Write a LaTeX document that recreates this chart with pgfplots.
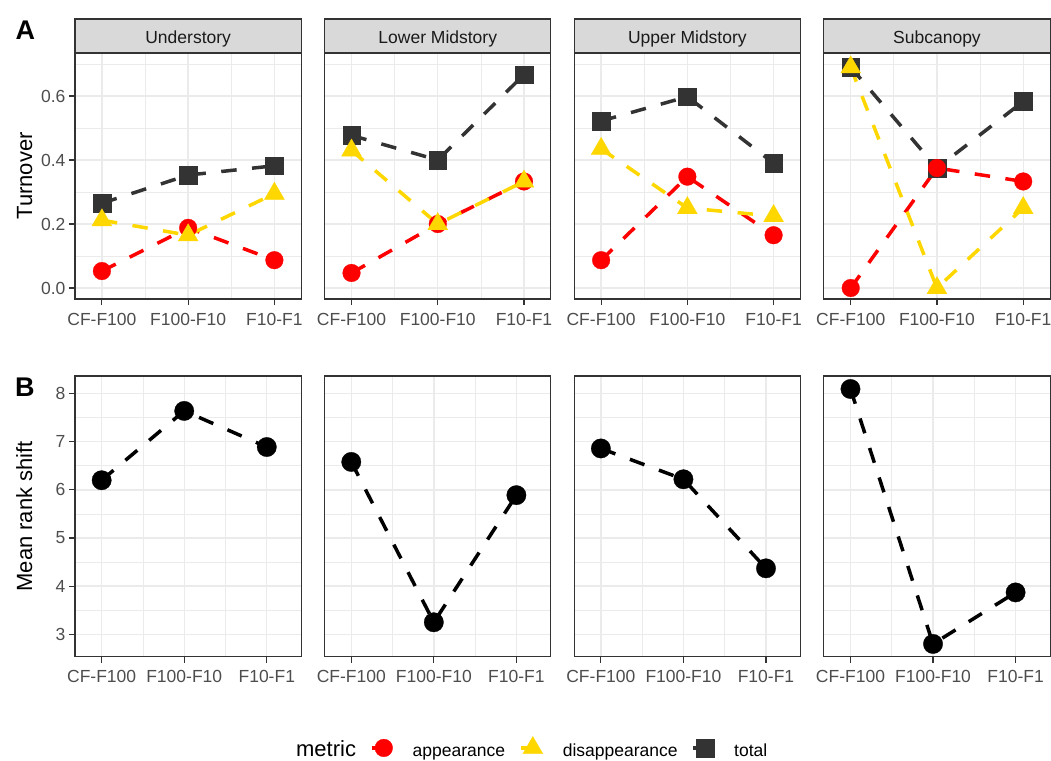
\documentclass[border=0pt]{standalone}
\usepackage{fontspec}
\setmainfont{Liberation Sans}
\usepackage{pgfplots}
\pgfplotsset{compat=1.18}
\definecolor{g10}{HTML}{1A1A1A}
\definecolor{g20}{HTML}{333333}
\definecolor{g30}{HTML}{4D4D4D}
\definecolor{g85}{HTML}{D9D9D9}
\definecolor{g92}{HTML}{EBEBEB}
\definecolor{gold}{HTML}{FFD700}
\newcommand\ticksize{\fontsize{17.5}{20}\selectfont}
\newcommand\titlesize{\fontsize{22}{26}\selectfont}
\pgfplotsset{
  panel/.style={
    scale only axis, width=226.3pt,
    axis line style={g20, line width=1.1pt},
    tick style={g20, line width=1.1pt},
    tick align=outside, major tick length=6pt, minor tick length=0pt,
    xtick pos=bottom, ytick pos=left,
    grid=both,
    major grid style={g92, line width=1.4pt},
    minor grid style={g92, line width=0.7pt},
    xtick={1,2,3}, xticklabels={CF-F100,F100-F10,F10-F1}, minor xtick={1.5,2.5},
    tick label style={font=\ticksize, text=g30},
    xticklabel style={yshift=-4.5pt},
    /pgf/number format/assume math mode=true,
  },
  top/.style={panel, height=246pt, xmin=0.688, xmax=3.312, ymin=-0.0343, ymax=0.7345,
    ytick={0,0.2,0.4,0.6}, minor ytick={0.1,0.3,0.5,0.7}, yticklabels={0.0,0.2,0.4,0.6}},
  bot/.style={panel, height=280.7pt, xmin=0.677, xmax=3.418, ymin=2.535, ymax=8.365,
    ytick={3,4,5,6,7,8}, minor ytick={3.5,4.5,5.5,6.5,7.5}, yticklabels={3,4,5,6,7,8}},
  inner/.style={yticklabels={}, ytick style={draw=none}},
  every axis title/.style={at={(0.5,1)}, anchor=south, fill=g85, draw=g20, line width=1.1pt,
    minimum width=226.3pt, minimum height=34pt, inner sep=0pt, outer sep=0pt,
    text height=14.6pt, text depth=0pt, text=g10, font=\ticksize},
  ln/.style={no markers, line width=3.5pt, dash pattern=on 15.5pt off 15.5pt},
  mapp/.style={only marks, mark=*, mark size=8.85pt, red, mark options={solid, line width=0.3pt}},
  mdis/.style={only marks, mark=triangle*, mark size=11.5pt, gold, mark options={solid, line width=0.3pt}},
  mtot/.style={only marks, mark=square*, mark size=8.85pt, g20, mark options={solid, line width=0.3pt}},
  mbot/.style={only marks, mark=*, mark size=9.7pt, black, mark options={solid, line width=0.3pt}},
  legkey/.style={legend image code/.code={
      \draw[##1, mark=none, solid] (-12pt,8.3pt) -- (0pt,8.3pt);
      \draw[##1] plot coordinates {(0pt,8.3pt)};
  }},
}
\begin{document}
\begin{tikzpicture}
\useasboundingbox (0pt,0pt) rectangle (1051pt,760pt);
\node[anchor=base west, font=\fontsize{27}{30}\selectfont\bfseries] at (12pt,720pt) {A};
\node[anchor=base west, font=\fontsize{27}{30}\selectfont\bfseries] at (11.5pt,363.3pt) {B};

% ---------- Row A ----------
\begin{axis}[top, at={(75pt,461pt)}, anchor=south west, title={Understory},
  ylabel={Turnover}, ylabel style={font=\titlesize, at={(axis description cs:-0.19,0.5)}, anchor=base}]
\addplot[ln, red] coordinates {(1,0.053) (2,0.188) (3,0.087)};
\addplot[ln, gold] coordinates {(1,0.212) (2,0.165) (3,0.295)};
\addplot[ln, g20] coordinates {(1,0.265) (2,0.353) (3,0.382)};
\addplot[mtot] coordinates {(1,0.265) (2,0.353) (3,0.382)};
\addplot[mapp] coordinates {(1,0.053) (2,0.188) (3,0.087)};
\addplot[mdis] coordinates {(1,0.212) (2,0.165) (3,0.295)};
\end{axis}

\begin{axis}[top, inner, at={(324.6pt,461pt)}, anchor=south west, title={Lower Midstory}]
\addplot[ln, red] coordinates {(1,0.047) (2,0.200) (3,0.333)};
\addplot[ln, gold] coordinates {(1,0.430) (2,0.200) (3,0.333)};
\addplot[ln, g20] coordinates {(1,0.477) (2,0.400) (3,0.667)};
\addplot[mtot] coordinates {(1,0.477) (2,0.400) (3,0.667)};
\addplot[mapp] coordinates {(1,0.047) (2,0.200) (3,0.333)};
\addplot[mdis] coordinates {(1,0.430) (2,0.200) (3,0.333)};
\end{axis}

\begin{axis}[top, inner, at={(574.2pt,461pt)}, anchor=south west, title={Upper Midstory}]
\addplot[ln, red] coordinates {(1,0.087) (2,0.348) (3,0.165)};
\addplot[ln, gold] coordinates {(1,0.435) (2,0.250) (3,0.225)};
\addplot[ln, g20] coordinates {(1,0.522) (2,0.598) (3,0.390)};
\addplot[mtot] coordinates {(1,0.522) (2,0.598) (3,0.390)};
\addplot[mapp] coordinates {(1,0.087) (2,0.348) (3,0.165)};
\addplot[mdis] coordinates {(1,0.435) (2,0.250) (3,0.225)};
\end{axis}

\begin{axis}[top, inner, at={(823.8pt,461pt)}, anchor=south west, title={Subcanopy}]
\addplot[ln, red] coordinates {(1,0.000) (2,0.375) (3,0.333)};
\addplot[ln, gold] coordinates {(1,0.690) (2,0.000) (3,0.250)};
\addplot[ln, g20] coordinates {(1,0.690) (2,0.375) (3,0.583)};
\addplot[mtot] coordinates {(1,0.690) (2,0.375) (3,0.583)};
\addplot[mapp] coordinates {(1,0.000) (2,0.375) (3,0.333)};
\addplot[mdis] coordinates {(1,0.690) (2,0.000) (3,0.250)};
\end{axis}

% ---------- Row B ----------
\begin{axis}[bot, at={(75pt,103.3pt)}, anchor=south west,
  ylabel={Mean rank shift}, ylabel style={font=\titlesize, at={(axis description cs:-0.19,0.5)}, anchor=base},
  legend columns=-1,
  legend style={draw=none, fill=none, inner sep=0pt, outer sep=0pt,
    at={(1.974,-0.360)}, anchor=south, font=\ticksize, text=black,
    cells={anchor=base west}, nodes={inner sep=0pt},
    /tikz/every odd column/.append style={column sep=20pt},
    /tikz/every even column/.append style={column sep=14pt}}]
\addplot[ln, black, forget plot] coordinates {(1,6.20) (2,7.64) (3,6.89)};
\addplot[mbot, forget plot] coordinates {(1,6.20) (2,7.64) (3,6.89)};
\addlegendimage{empty legend}\addlegendentry{\titlesize metric}
\addlegendimage{legkey, red, line width=3.5pt, mark=*, mark size=8.85pt, mark options={solid, line width=0.3pt}}\addlegendentry{appearance}
\addlegendimage{legkey, gold, line width=3.5pt, mark=triangle*, mark size=11.5pt, mark options={solid, line width=0.3pt}}\addlegendentry{disappearance}
\addlegendimage{legkey, g20, line width=3.5pt, mark=square*, mark size=8.85pt, mark options={solid, line width=0.3pt}}\addlegendentry{total}
\end{axis}

\begin{axis}[bot, inner, at={(324.6pt,103.3pt)}, anchor=south west]
\addplot[ln, black] coordinates {(1,6.58) (2,3.25) (3,5.89)};
\addplot[mbot] coordinates {(1,6.58) (2,3.25) (3,5.89)};
\end{axis}

\begin{axis}[bot, inner, at={(574.2pt,103.3pt)}, anchor=south west]
\addplot[ln, black] coordinates {(1,6.86) (2,6.22) (3,4.37)};
\addplot[mbot] coordinates {(1,6.86) (2,6.22) (3,4.37)};
\end{axis}

\begin{axis}[bot, inner, at={(823.8pt,103.3pt)}, anchor=south west]
\addplot[ln, black] coordinates {(1,8.095) (2,2.80) (3,3.87)};
\addplot[mbot] coordinates {(1,8.095) (2,2.80) (3,3.87)};
\end{axis}
\end{tikzpicture}
\end{document}
